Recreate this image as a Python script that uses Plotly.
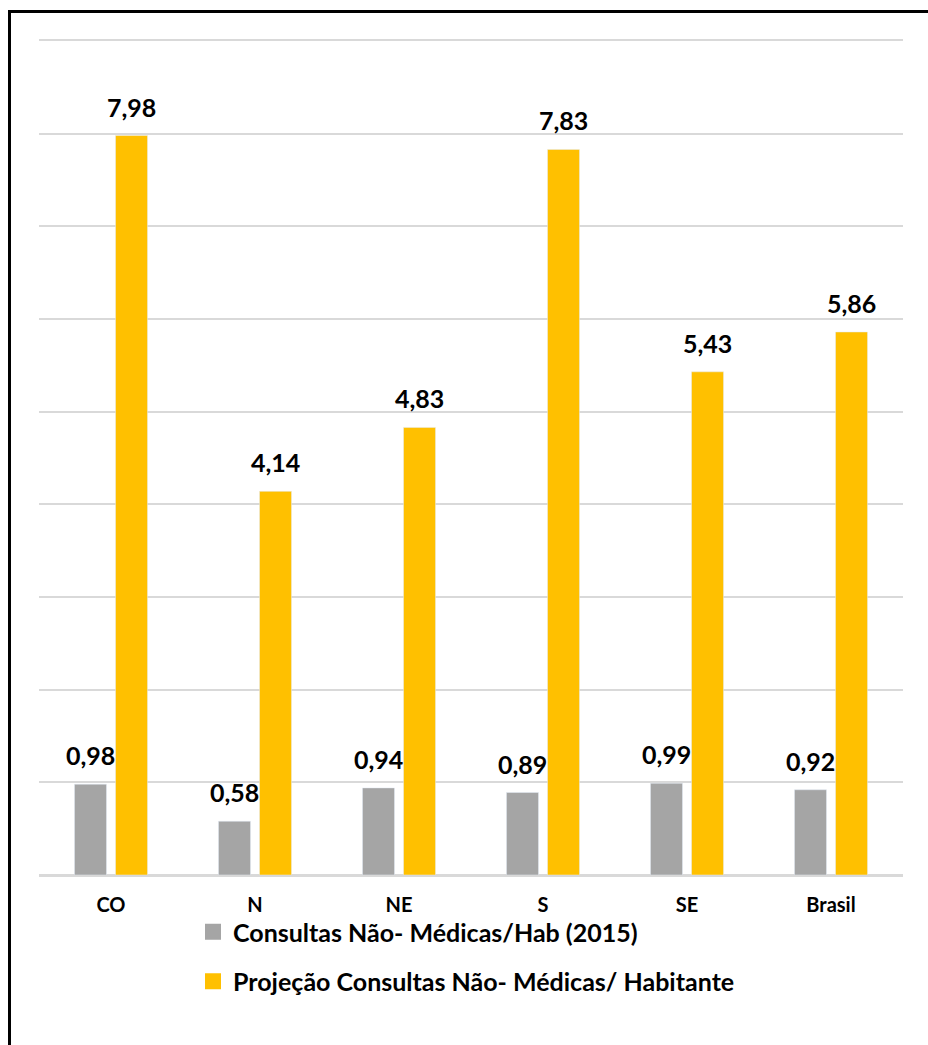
import plotly.graph_objects as go

# Regions and consultation rates
regioes = ["CO", "N", "NE", "S", "SE", "Brasil"]
consultas_2015 = [0.98, 0.58, 0.94, 0.89, 0.99, 0.92]
projecao = [7.98, 4.14, 4.83, 7.83, 5.43, 5.86]

nome_2015 = "Consultas Não- Médicas/Hab (2015)"
nome_proj = "Projeção Consultas Não- Médicas/ Habitante"

CINZA = "#A5A5A5"
AMARELO = "#FFC000"
GRADE = "#D9D9D9"
FONTE = "Lato"

W, H = 928, 1045
ML, MR, MT, MB = 39, 25, 41, 170
BARGAP, GROUPGAP = 0.43, 0.22

fig = go.Figure()
fig.add_trace(go.Bar(x=regioes, y=consultas_2015, marker_color=CINZA,
                     showlegend=False, hoverinfo="x+y"))
fig.add_trace(go.Bar(x=regioes, y=projecao, marker_color=AMARELO,
                     showlegend=False, hoverinfo="x+y"))

# Legend entries with larger square swatches
for nome, cor, grupo in [(nome_2015, CINZA, "a"), (nome_proj, AMARELO, "b")]:
    fig.add_trace(go.Scatter(x=[None], y=[None], mode="markers", name=nome,
                             legendgroup=grupo,
                             marker=dict(symbol="square", size=16, color=cor)))

# Value labels above each bar
meio_slot = (1 - BARGAP) / 4
def rotulo(v):
    return f"{v:.2f}".replace(".", ",")

for i, (a, b) in enumerate(zip(consultas_2015, projecao)):
    for x, v in [(i - meio_slot, a), (i + meio_slot, b)]:
        fig.add_annotation(x=x, y=v, xref="x", yref="y", text=rotulo(v),
                           showarrow=False, yanchor="bottom", yshift=12,
                           font=dict(family=FONTE, size=25, color="black",
                                     weight="bold"))

# Outer frame
pw, ph = W - ML - MR, H - MT - MB
def px(xp):
    return (xp - ML) / pw
def py(yp):
    return (H - MB - yp) / ph

fig.add_shape(type="rect", xref="paper", yref="paper",
              x0=px(9.5), x1=px(W + 10), y0=py(H + 10), y1=py(11.5),
              line=dict(color="black", width=3), fillcolor="rgba(0,0,0,0)",
              layer="above")

fig.update_layout(
    width=W, height=H,
    margin=dict(l=ML, r=MR, t=MT, b=MB),
    paper_bgcolor="white", plot_bgcolor="white",
    barmode="group", bargap=BARGAP, bargroupgap=GROUPGAP,
    font=dict(family=FONTE, color="black"),
    legend=dict(orientation="v", x=px(193), xanchor="left",
                y=py(909), yanchor="top",
                traceorder="grouped", tracegroupgap=14,
                font=dict(family=FONTE, size=25, color="black", weight="bold"),
                bgcolor="rgba(0,0,0,0)"),
    xaxis=dict(showgrid=False, showline=True, mirror=True,
               linecolor=GRADE, linewidth=1.5, ticks="",
               tickfont=dict(family=FONTE, size=20, color="black",
                             weight="bold"),
               ticklabelstandoff=11),
    yaxis=dict(range=[0, 9], dtick=1, showticklabels=False,
               showgrid=True, gridcolor=GRADE, gridwidth=1.5,
               zeroline=True, zerolinecolor=GRADE, zerolinewidth=1.5,
               showline=False, ticks=""),
)

fig.write_html("out.html")
